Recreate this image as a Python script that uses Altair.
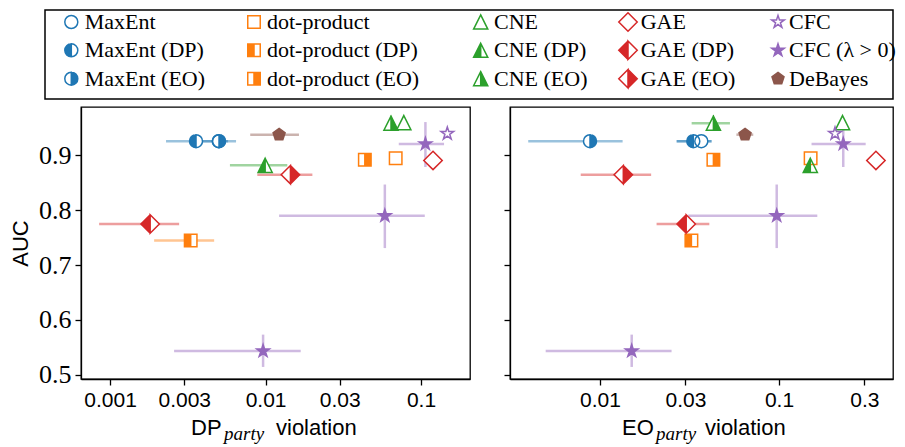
import math
import altair as alt
import pandas as pd

# ---------------- data ----------------
METHODS = ["MaxEnt", "MaxEnt (DP)", "MaxEnt (EO)",
           "dot-product", "dot-product (DP)", "dot-product (EO)",
           "CNE", "CNE (DP)", "CNE (EO)",
           "GAE", "GAE (DP)", "GAE (EO)",
           "CFC", "CFC (λ > 0)", "DeBayes"]

PT_METHOD = ["MaxEnt", "MaxEnt (DP)", "MaxEnt (EO)",
             "dot-product", "dot-product (DP)", "dot-product (EO)",
             "CNE", "CNE (DP)", "CNE (EO)",
             "GAE", "GAE (DP)", "GAE (EO)",
             "CFC", "CFC (λ > 0)", "CFC (λ > 0)", "CFC (λ > 0)", "DeBayes"]
PT_AUC = [0.926, 0.926, 0.926, 0.895, 0.745, 0.892, 0.960, 0.882, 0.959,
          0.891, 0.775, 0.865, 0.940, 0.921, 0.790, 0.543, 0.938]
PT_AUC_LO = [None] * 13 + [0.879, 0.731, 0.514, None]
PT_AUC_HI = [None] * 13 + [0.961, 0.847, 0.573, None]

PT_DP = [0.00500, 0.00357, 0.00502, 0.0687, 0.00330, 0.0435, 0.0775, 0.00994, 0.0641,
         0.1194, 0.00181, 0.01445, 0.1476, 0.1067, 0.0585, 0.00964, 0.01222]
PT_DP_LO = [None, 0.00229, 0.00368, None, 0.00192, None, None, 0.0059, None,
            None, 0.00085, 0.00885, None, 0.0719, 0.01222, 0.00258, 0.00797]
PT_DP_HI = [None, 0.00574, 0.00646, None, 0.00467, None, None, 0.0138, None,
            None, 0.00278, 0.0200, None, 0.1406, 0.1057, 0.01683, 0.0164]

PT_EO = [0.0368, 0.0332, 0.00879, 0.1502, 0.0324, 0.0430, 0.2265, 0.1496, 0.0430,
         0.348, 0.0303, 0.01349, 0.2056, 0.2286, 0.0971, 0.01503, 0.0646]
PT_EO_LO = [0.0268, 0.0268, 0.00397, None, None, None, None, None, 0.0325,
            None, 0.0207, 0.0078, None, 0.152, 0.0311, 0.00497, 0.0578]
PT_EO_HI = [0.0420, 0.0420, 0.01337, None, None, None, None, None, 0.0532,
            None, 0.0408, 0.0193, None, 0.305, 0.1637, 0.0251, 0.0718]

DP_TICKS = [0.001, 0.003, 0.01, 0.03, 0.1]
EO_TICKS = [0.01, 0.03, 0.1, 0.3]
AUC_TICKS = [0.5, 0.6, 0.7, 0.8, 0.9]

# ---------------- styles ----------------
COLOR = {"MaxEnt": "#1f77b4", "dot-product": "#ff7f0e", "CNE": "#2ca02c",
         "GAE": "#d62728", "CFC": "#9467bd", "DeBayes": "#8c564b"}
KIND = {"MaxEnt": "circle", "dot-product": "square", "CNE": "triangle",
        "GAE": "diamond", "CFC": "star", "DeBayes": "pentagon"}
SIZE = {"circle": 169, "square": 156, "triangle": 200, "diamond": 340,
        "star": 175, "pentagon": 160}


def poly(pts):
    return "M" + " L".join(f"{x:.4f} {y:.4f}" for x, y in pts) + " Z"


def star_pts():
    pts = []
    for k in range(10):
        r = 1.0 if k % 2 == 0 else 0.382
        a = math.radians(-90 + 36 * k)
        pts.append((r * math.cos(a), r * math.sin(a)))
    return pts


def pent_pts():
    return [(math.cos(math.radians(-90 + 72 * k)), math.sin(math.radians(-90 + 72 * k)))
            for k in range(5)]


FULL = {
    "circle": "M0 -1 A1 1 0 1 1 0 1 A1 1 0 1 1 0 -1 Z",
    "square": "M-1 -1 L1 -1 L1 1 L-1 1 Z",
    "triangle": "M0 -1 L1 1 L-1 1 Z",
    "diamond": "M0 -1 L1 0 L0 1 L-1 0 Z",
    "star": poly(star_pts()),
    "pentagon": poly(pent_pts()),
}
# reversed half outlines: cancel the fill of that half (nonzero winding)
CUT_RIGHT = {
    "circle": "M0 -1 L0 1 A1 1 0 0 0 0 -1 Z",
    "square": "M0 -1 L0 1 L1 1 L1 -1 Z",
    "triangle": "M0 -1 L0 1 L1 1 Z",
    "diamond": "M0 -1 L0 1 L1 0 Z",
}
CUT_LEFT = {
    "circle": "M0 -1 A1 1 0 0 0 0 1 Z",
    "square": "M0 -1 L-1 -1 L-1 1 L0 1 Z",
    "triangle": "M0 -1 L-1 1 L0 1 Z",
    "diamond": "M0 -1 L-1 0 L0 1 Z",
}


def style(method):
    fam = method.split(" (")[0]
    kind = KIND[fam]
    col = COLOR[fam]
    if method.endswith("(DP)"):
        path, fill = FULL[kind] + " " + CUT_RIGHT[kind], col
    elif method.endswith("(EO)"):
        path, fill = FULL[kind] + " " + CUT_LEFT[kind], col
    elif method in ("CFC (λ > 0)", "DeBayes"):
        path, fill = FULL[kind], col
    else:
        path, fill = FULL[kind], "transparent"
    return dict(col=col, path=path, base=FULL[kind], fillc=fill, sz=SIZE[kind])


def panel_df(xs, xlo, xhi):
    rows = []
    for i, m in enumerate(PT_METHOD):
        r = dict(method=m, auc=PT_AUC[i], alo=PT_AUC_LO[i], ahi=PT_AUC_HI[i],
                 x=xs[i], xlo=xlo[i], xhi=xhi[i])
        r.update(style(m))
        rows.append(r)
    return pd.DataFrame(rows)


Y_DOMAIN = [0.492, 0.9885]
W_LEFT, W_RIGHT, H, GAP = 389, 383, 272, 40

# legend layout (pixels relative to the left plot area)
LEG_SYM_X = [-9.7, 173, 399.7, 547, 697]
LEG_TXT_X = [3.7, 186, 413, 559.7, 708]
LEG_ROW_Y = [-85, -56.7, -28.3]


def make_panel(df, xdomain, xticks, first, sub_main, title_x, width):
    xscale = alt.Scale(type="log", domain=xdomain, nice=False)
    xaxis = alt.Axis(values=xticks, format=".3~f", title=None, labelOverlap=False,
                     labelFlush=False)
    yscale = alt.Scale(domain=Y_DOMAIN, nice=False, zero=False)
    yaxis = alt.Axis(values=AUC_TICKS, format=".1f", title="AUC" if first else None,
                     labels=first, labelOverlap=False, labelFlush=False)
    base = alt.Chart(df)
    hbar = base.transform_filter("isValid(datum.xlo)").mark_rule(
        strokeWidth=2.5, opacity=0.45).encode(
        x=alt.X("xlo:Q", scale=xscale, axis=xaxis), x2="xhi:Q",
        y=alt.Y("auc:Q", scale=yscale, axis=yaxis),
        color=alt.Color("col:N", scale=None))
    vbar = base.transform_filter("isValid(datum.alo)").mark_rule(
        strokeWidth=2.5, opacity=0.45).encode(
        x=alt.X("x:Q", scale=xscale, axis=xaxis),
        y=alt.Y("alo:Q", scale=yscale, axis=yaxis), y2="ahi:Q",
        color=alt.Color("col:N", scale=None))
    under = base.mark_point(filled=True, opacity=1, strokeOpacity=0).encode(
        x=alt.X("x:Q", scale=xscale, axis=xaxis),
        y=alt.Y("auc:Q", scale=yscale, axis=yaxis),
        shape=alt.Shape("base:N", scale=None),
        size=alt.Size("sz:Q", scale=None),
        fill=alt.value("white"))
    pts = base.mark_point(filled=True, opacity=1, strokeWidth=1.5).encode(
        x=alt.X("x:Q", scale=xscale, axis=xaxis),
        y=alt.Y("auc:Q", scale=yscale, axis=yaxis),
        shape=alt.Shape("path:N", scale=None),
        size=alt.Size("sz:Q", scale=None),
        fill=alt.Fill("fillc:N", scale=None),
        stroke=alt.Stroke("col:N", scale=None))
    one = alt.Data(values=[{"k": 1}])
    t1 = alt.Chart(one).mark_text(align="left", baseline="alphabetic",
                                  font="Liberation Sans", fontSize=22).encode(
        x=alt.value(title_x[0]), y=alt.value(328), text=alt.value(sub_main))
    t2 = alt.Chart(one).mark_text(align="left", baseline="alphabetic",
                                  font="Liberation Serif", fontStyle="italic",
                                  fontSize=19).encode(
        x=alt.value(title_x[1]), y=alt.value(333), text=alt.value("party"))
    t3 = alt.Chart(one).mark_text(align="left", baseline="alphabetic",
                                  font="Liberation Sans", fontSize=22).encode(
        x=alt.value(title_x[2]), y=alt.value(328), text=alt.value("violation"))
    layers = [hbar, vbar, under, pts, t1, t2, t3]

    if first:
        lrows = []
        for i, m in enumerate(METHODS):
            c, r = i // 3, i % 3
            d = dict(label=m, lx=LEG_SYM_X[c], tx=LEG_TXT_X[c], ly=LEG_ROW_Y[r])
            d.update(style(m))
            lrows.append(d)
        ldf = pd.DataFrame(lrows)
        box = alt.Chart(one).mark_rect(fill="white", stroke="black", strokeWidth=1.5).encode(
            x=alt.value(-36), x2=alt.value(W_LEFT + GAP + W_RIGHT),
            y=alt.value(-97), y2=alt.value(-8))
        lsym = alt.Chart(ldf).mark_point(filled=True, opacity=1, strokeWidth=1.5).encode(
            x=alt.X("lx:Q", scale=None), y=alt.Y("ly:Q", scale=None),
            shape=alt.Shape("path:N", scale=None),
            size=alt.Size("sz:Q", scale=None),
            fill=alt.Fill("fillc:N", scale=None),
            stroke=alt.Stroke("col:N", scale=None))
        ltxt = alt.Chart(ldf).mark_text(align="left", baseline="middle",
                                        font="Liberation Serif", fontSize=22,
                                        color="black").encode(
            x=alt.X("tx:Q", scale=None), y=alt.Y("ly:Q", scale=None),
            text="label:N")
        layers += [box, lsym, ltxt]

    return alt.layer(*layers).properties(width=width, height=H)


left = make_panel(panel_df(PT_DP, PT_DP_LO, PT_DP_HI), [0.00065, 0.2065], DP_TICKS,
                  True, "DP", [110, 143, 195], W_LEFT)
right = make_panel(panel_df(PT_EO, PT_EO_LO, PT_EO_HI), [0.00314, 0.4335], EO_TICKS,
                   False, "EO", [112, 146, 195], W_RIGHT)

chart = alt.hconcat(left, right, spacing=GAP, bounds="flush").properties(
    padding={"left": 0, "top": 0, "right": 0, "bottom": 0}
).configure_view(stroke="black", strokeWidth=1.3).configure_axis(
    grid=False, domainColor="black", domainWidth=1.3, tickColor="black",
    tickSize=6, tickWidth=1.3, labelColor="black", titleColor="black"
).configure_axisX(
    labelFont="Liberation Sans", labelFontSize=21, labelPadding=4
).configure_axisY(
    labelFont="Liberation Serif", labelFontSize=26, labelPadding=4,
    titleFont="Liberation Sans", titleFontSize=22, titleFontWeight="normal",
    titlePadding=6
)

chart.save("out.html", embed_options={"renderer": "svg", "actions": False})
